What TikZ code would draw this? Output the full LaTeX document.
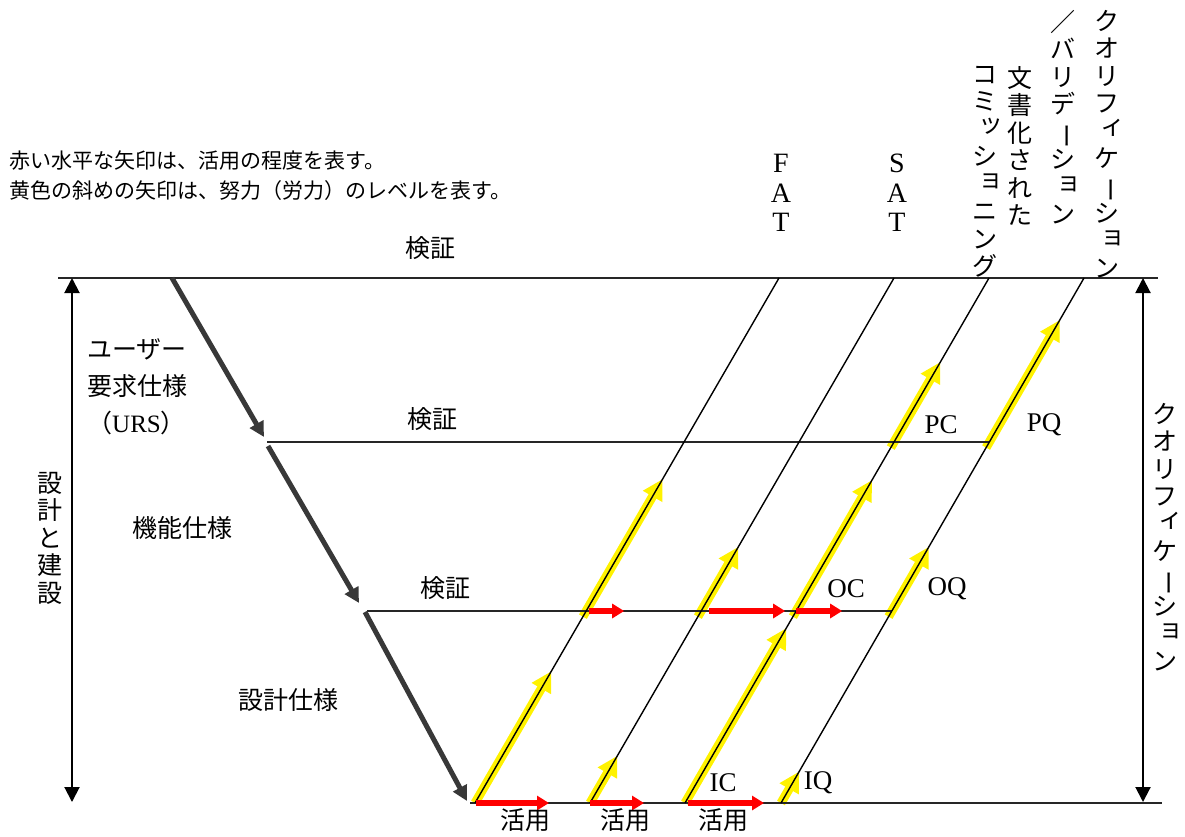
\documentclass[tikz,border=0pt]{standalone}
\usepackage{graphicx}
\usepackage{fontspec}
\setmainfont{Liberation Serif}
\newfontfamily\jpf{Noto Sans CJK JP}
\usetikzlibrary{arrows.meta,calc}
\lineskiplimit=-100pt
\lineskip=0pt
\newcommand\sk[1]{\smash{\raisebox{0.22em}{\kern0.22em#1\kern-0.22em}}}
\newcommand\vbar{\smash{\rotatebox[origin=c]{-90}{ー}}}
\tikzset{
  jp/.style={font=\jpf\fontsize{25}{27.5}\selectfont, inner sep=0pt},
  jpcap/.style={font=\jpf\fontsize{21}{24}\selectfont, inner sep=0pt, anchor=base west},
  vcol/.style={font=\jpf\fontsize{25}{27.5}\selectfont, align=center, inner sep=0pt, anchor=north},
  lat/.style={font=\fontsize{27}{30}\selectfont, inner sep=0pt},
  vlat/.style={font=\fontsize{28}{29.5}\selectfont, align=center, inner sep=0pt, anchor=north},
  diag/.style={line width=1.4pt, black},
  hline/.style={line width=1.6pt, black!85},
  flow/.style={line width=5pt, black!78, -{Triangle[width=15pt,length=15pt]}},
  effort/.style={line width=9pt, yellow, -{Triangle[width=21pt,length=20pt]}, xshift=-2.5pt},
  usage/.style={line width=6pt, red, -{Triangle[width=14pt,length=12pt]}},
  dimarrow/.style={line width=2pt, {Triangle[width=15pt,length=15pt]}-{Triangle[width=15pt,length=15pt]}},
}
\begin{document}
\begin{tikzpicture}[x=1pt,y=-1pt]
\useasboundingbox (0,0) rectangle (1185,836);
% key coordinates
\coordinate (TL) at (58,278);
\coordinate (TR) at (1158,278);
\coordinate (BL) at (470,803);
\coordinate (BR) at (1162,803);
\coordinate (T1) at (779,278); \coordinate (B1) at (475,803);
\coordinate (T2) at (894,278); \coordinate (B2) at (590,803);
\coordinate (T3) at (989,278); \coordinate (B3) at (685,803);
\coordinate (T4) at (1084,278); \coordinate (B4) at (781,803);
\coordinate (M1L) at (267,442);
\coordinate (M1R) at ($(B4)!0.6876!(T4)$);
\coordinate (M2L) at (367,611);
\coordinate (M2R) at ($(B4)!0.3657!(T4)$);
\coordinate (L1a) at ($(B1)!0.3657!(T1)$);
\coordinate (L2a) at ($(B2)!0.3657!(T2)$);
\coordinate (L3a) at ($(B3)!0.3657!(T3)$);
% flow arrows start/end
\coordinate (F1s) at (172,278); \coordinate (F1e) at (264,437);
\coordinate (F2s) at (268,446); \coordinate (F2e) at (359,603);
\coordinate (F3s) at (365,612); \coordinate (F3e) at (467,801);
% dimension arrows
\coordinate (DLt) at (72,278); \coordinate (DLb) at (72,802);
\coordinate (DRt) at (1143,278); \coordinate (DRb) at (1143,802);

% yellow effort arrows
\draw[effort] ($(B1)!0.0!(T1)$) -- ($(B1)!0.251!(T1)$);
\draw[effort] ($(B1)!0.355!(T1)$) -- ($(B1)!0.617!(T1)$);
\draw[effort] ($(B2)!0.0!(T2)$) -- ($(B2)!0.09!(T2)$);
\draw[effort] ($(B2)!0.355!(T2)$) -- ($(B2)!0.488!(T2)$);
\draw[effort] ($(B3)!0.0!(T3)$) -- ($(B3)!0.333!(T3)$);
\draw[effort] ($(B3)!0.355!(T3)$) -- ($(B3)!0.615!(T3)$);
\draw[effort] ($(B3)!0.677!(T3)$) -- ($(B3)!0.84!(T3)$);
\draw[effort] ($(B4)!0.0!(T4)$) -- ($(B4)!0.06!(T4)$);
\draw[effort] ($(B4)!0.355!(T4)$) -- ($(B4)!0.488!(T4)$);
\draw[effort] ($(B4)!0.677!(T4)$) -- ($(B4)!0.92!(T4)$);

% horizontal lines
\draw[hline] (TL) -- (TR);
\draw[hline] (M1L) -- (M1R);
\draw[hline] (M2L) -- (M2R);
\draw[hline] (BL) -- (BR);
% diagonal lines
\draw[diag] (B1) -- (T1);
\draw[diag] (B2) -- (T2);
\draw[diag] (B3) -- (T3);
\draw[diag] (B4) -- (T4);

% red usage arrows
\draw[usage] ($(B1)+(1,0)$) -- ($(B1)+(74,0)$);
\draw[usage] ($(B2)+(0,0)$) -- ($(B2)+(54,0)$);
\draw[usage] ($(B3)+(3,0)$) -- ($(B3)+(79,0)$);
\draw[usage] ($(L1a)+(3,0)$) -- ($(L1a)+(38,0)$);
\draw[usage] ($(L2a)+(8,0)$) -- ($(L2a)+(84,0)$);
\draw[usage] ($(L3a)+(0,0)$) -- ($(L3a)+(46,0)$);

% flow arrows
\draw[flow] (F1s) -- (F1e);
\draw[flow] (F2s) -- (F2e);
\draw[flow] (F3s) -- (F3e);
% dimension arrows
\draw[dimarrow] (DLb) -- (DLt);
\draw[dimarrow] (DRb) -- (DRt);

% captions
\node[jpcap] (cap1) at (9,168) {赤い水平な矢印は、活用の程度を表す。};
\node[jpcap] (cap2) at (9,198) {黄色の斜めの矢印は、努力（労力）のレベルを表す。};

% labels
\node[jp] (v1) at (430,248) {検証};
\node[jp] (v2) at (432,419) {検証};
\node[jp] (v3) at (445,588) {検証};
\node[jp, anchor=west] (urs1) at (87,349) {ユーザー};
\node[jp, anchor=west] (urs2) at (87,386) {要求仕様};
\node[jp, anchor=west] (urs3) at (87,423) {（{\fontspec{Liberation Serif}URS}）};
\node[jp] (fs) at (182,528) {機能仕様};
\node[jp] (ds) at (288,700) {設計仕様};
\node[jp] (u1) at (525,820) {活用};
\node[jp] (u2) at (625,820) {活用};
\node[jp] (u3) at (723,820) {活用};
\node[lat] (ic) at (723,783) {IC};
\node[lat] (iq) at (818,783) {IQ};
\node[lat] (oc) at (846,589) {OC};
\node[lat] (oq) at (947,589) {OQ};
\node[lat] (pc) at (941,425) {PC};
\node[lat] (pq) at (1044,425) {PQ};

% vertical texts
\node[vlat] (fat) at (781,154) {F\\A\\T};
\node[vlat] (sat) at (897,154) {S\\A\\T};
\node[vcol] (doc) at (1020,66) {文\\書\\化\\さ\\れ\\た};
\node[vcol] (comm) at (985,66) {コ\\ミ\\\sk{ッ}\\シ\\\sk{ョ}\\ニ\\ン\\グ};
\node[vcol] (val) at (1063,10) {／\\バ\\リ\\デ\\\vbar\\シ\\\sk{ョ}\\ン};
\node[vcol] (qual) at (1107,10) {ク\\オ\\リ\\フ\\\sk{ィ}\\ケ\\\vbar\\シ\\\sk{ョ}\\ン};
\node[vcol] (qual2) at (1165,403) {ク\\オ\\リ\\フ\\\sk{ィ}\\ケ\\\vbar\\シ\\\sk{ョ}\\ン};
\node[vcol] (dc) at (50,472) {設\\計\\と\\建\\設};
\end{tikzpicture}
\end{document}
